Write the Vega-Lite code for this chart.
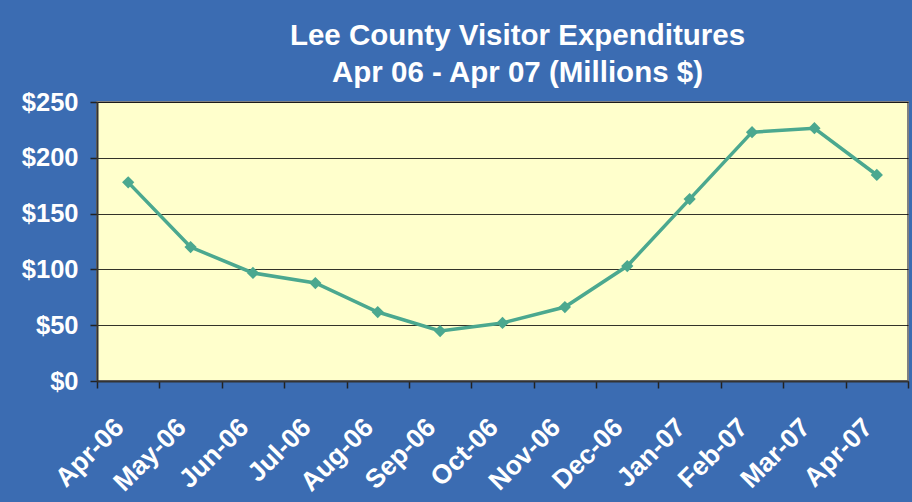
{
  "$schema": "https://vega.github.io/schema/vega-lite/v6.json",
  "autosize": "none",
  "width": 811,
  "height": 279,
  "padding": {"left": 97, "top": 102, "right": 4, "bottom": 121},
  "background": "#3B6CB2",
  "data": {"values": [
    {"month": "Apr-06", "value": 178},
    {"month": "May-06", "value": 120},
    {"month": "Jun-06", "value": 96.8},
    {"month": "Jul-06", "value": 87.8},
    {"month": "Aug-06", "value": 61.8},
    {"month": "Sep-06", "value": 44.8},
    {"month": "Oct-06", "value": 52},
    {"month": "Nov-06", "value": 66.3},
    {"month": "Dec-06", "value": 103},
    {"month": "Jan-07", "value": 163},
    {"month": "Feb-07", "value": 223},
    {"month": "Mar-07", "value": 226.5},
    {"month": "Apr-07", "value": 184.6}
  ]},
  "title": {
    "text": ["Lee County Visitor Expenditures", "Apr 06 - Apr 07 (Millions $)"],
    "color": "white",
    "font": "Liberation Sans",
    "fontSize": 29.5,
    "fontWeight": "bold",
    "lineHeight": 37,
    "anchor": "middle",
    "dx": 15,
    "baseline": "top",
    "offset": 2
  },
  "config": {
    "view": {"fill": "#FFFFCC", "stroke": "#808080", "strokeWidth": 2}
  },
  "mark": {"type": "line", "color": "#4BA88F", "strokeWidth": 3.5, "point": {"shape": "diamond", "size": 150, "filled": true, "color": "#4BA88F", "opacity": 1}},
  "encoding": {
    "x": {
      "field": "month",
      "type": "ordinal",
      "sort": null,
      "scale": {"paddingInner": 0, "paddingOuter": 0},
      "axis": {
        "title": null,
        "tickBand": "extent",
        "labelOffset": -9,
        "labelAngle": -45,
        "labelAlign": "right",
        "labelBaseline": "middle",
        "labelPadding": 35,
        "labelFont": "Liberation Sans",
        "labelFontSize": 26.5,
        "labelFontWeight": "bold",
        "labelColor": "white",
        "tickColor": "#222222",
        "tickSize": 7,
        "tickWidth": 1.5,
        "domainColor": "#333333",
        "domainWidth": 2,
        "grid": false
      }
    },
    "y": {
      "field": "value",
      "type": "quantitative",
      "scale": {"domain": [0, 250], "nice": false},
      "axis": {
        "title": null,
        "values": [0, 50, 100, 150, 200, 250],
        "format": "$,.0f",
        "labelFont": "Liberation Sans",
        "labelFontSize": 25.5,
        "labelFontWeight": "bold",
        "labelColor": "white",
        "labelPadding": 12,
        "tickColor": "#222222",
        "tickSize": 7,
        "tickWidth": 1.5,
        "domainColor": "#333333",
        "domainWidth": 2,
        "grid": true,
        "gridColor": "#000000",
        "gridWidth": 1,
        "gridOpacity": 0.8
      }
    }
  }
}
